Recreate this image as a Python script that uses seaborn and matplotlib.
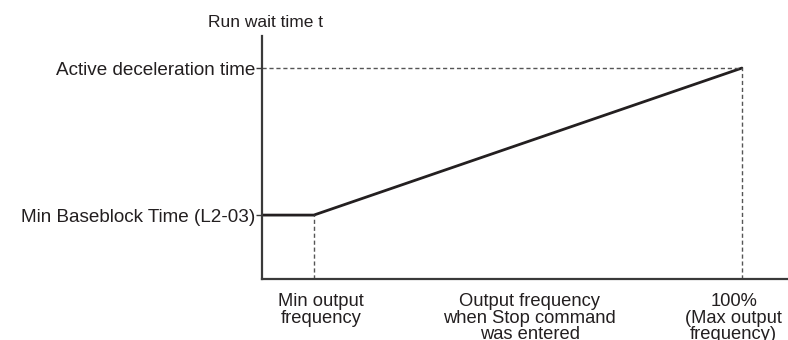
import matplotlib
matplotlib.use("Agg")
import matplotlib.pyplot as plt
import seaborn as sns
import pandas as pd

# Output frequency (% of max) and run wait time (relative to active decel time)
freq_points = [0.0, 10.8, 100.0]
wait_points = [0.303, 0.303, 1.0]
min_freq = 10.8
max_freq = 100.0
baseblock_time = 0.303
decel_time = 1.0

y_tick_labels = ["Min Baseblock Time (L2-03)", "Active deceleration time"]
x_tick_labels = ["Min output\nfrequency", "Output frequency\nwhen Stop command\nwas entered",
                 "100%\n(Max output\nfrequency)"]
x_label_positions = [12.3, 55.8, 98.3]
y_title = "Run wait time t"

sns.set_style("white")
plt.rcParams["font.family"] = ["Liberation Sans", "DejaVu Sans"]

ink = "#231f20"
fig = plt.figure(figsize=(7.88, 3.40), dpi=100)
ax = fig.add_axes([262 / 788, 1 - 279 / 340, 525 / 788, 243 / 340])

df = pd.DataFrame({"freq": freq_points, "wait": wait_points})
sns.lineplot(data=df, x="freq", y="wait", ax=ax, color=ink, linewidth=2.0,
             estimator=None, sort=False)

# guide lines
dash = (0, (3, 2))
ax.plot([min_freq, min_freq], [0, baseblock_time], ls=dash, color="#555555", lw=1.0)
ax.plot([max_freq, max_freq], [0, decel_time], ls=dash, color="#555555", lw=1.0)
ax.plot([0, max_freq], [decel_time, decel_time], ls=dash, color="#555555", lw=1.0)

ax.set_xlim(0, 109.4)
ax.set_ylim(0, 1.152)

for side in ["top", "right"]:
    ax.spines[side].set_visible(False)
for side in ["left", "bottom"]:
    ax.spines[side].set_color("#3a3a3a")
    ax.spines[side].set_linewidth(1.6)

ax.set_yticks([baseblock_time, decel_time])
ax.set_yticklabels(y_tick_labels, fontsize=13.6, color=ink)
ax.tick_params(axis="y", direction="out", length=4, width=1, color="#3a3a3a", pad=1, left=True)

ax.set_xticks(x_label_positions)
ax.set_xticklabels(x_tick_labels, fontsize=13.2, color=ink, linespacing=0.98)
ax.tick_params(axis="x", length=0, pad=10)

ax.set_xlabel("")
ax.set_ylabel("")
fig.text(265 / 788, 1 - 27 / 340, y_title, ha="center", va="baseline", fontsize=12.5, color=ink)

fig.savefig("out.png", dpi=100)
